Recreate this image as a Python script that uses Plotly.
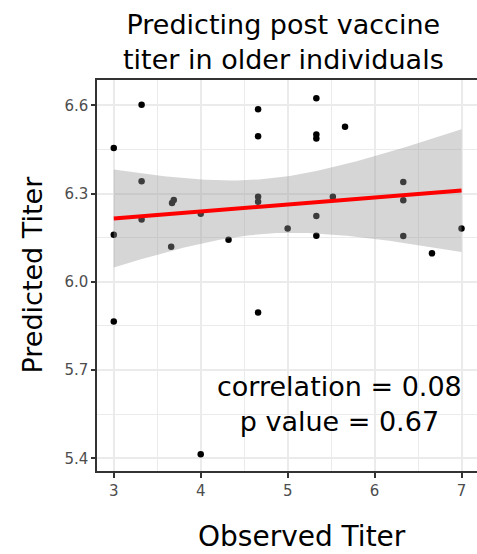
import numpy as np
import plotly.graph_objects as go

# Observed vs predicted titers
observed = [3.00, 3.32, 4.66, 4.66, 3.32, 3.67, 3.69, 3.32, 3.00, 4.00,
            3.66, 4.32, 4.66, 4.66, 5.00, 5.33, 5.33, 5.33, 5.66, 6.33,
            5.52, 5.33, 6.33, 5.33, 6.33, 6.66, 7.00, 3.00, 4.66, 4.00]
predicted = [6.455, 6.602, 6.587, 6.495, 6.342, 6.268, 6.278, 6.212, 6.160, 6.231,
             6.119, 6.143, 6.289, 6.272, 6.181, 6.624, 6.501, 6.487, 6.527, 6.339,
             6.289, 6.224, 6.277, 6.157, 6.156, 6.097, 6.181, 5.865, 5.896, 5.414]

x_ticks = [3, 4, 5, 6, 7]
y_ticks = [5.4, 5.7, 6.0, 6.3, 6.6]
title_text = "Predicting post vaccine<br>titer in older individuals"
x_title = "Observed Titer"
y_title = "Predicted Titer"
stats_text = "correlation = 0.08<br>p value = 0.67"
T_CRIT = 2.048  # 97.5% t quantile, df = n - 2 = 28

# linear model fit with 95% confidence band (like geom_smooth(method="lm"))
x = np.array(observed)
y = np.array(predicted)
n = len(x)
xbar, ybar = x.mean(), y.mean()
sxx = ((x - xbar) ** 2).sum()
slope = ((x - xbar) * (y - ybar)).sum() / sxx
intercept = ybar - slope * xbar
resid = y - (intercept + slope * x)
s = np.sqrt((resid ** 2).sum() / (n - 2))
grid = np.linspace(x.min(), x.max(), 80)
fit = intercept + slope * grid
se = s * np.sqrt(1.0 / n + (grid - xbar) ** 2 / sxx)
upper = fit + T_CRIT * se
lower = fit - T_CRIT * se

FONT = "DejaVu Sans"

fig = go.Figure()
fig.add_trace(go.Scatter(x=observed, y=predicted, mode="markers",
                         marker=dict(color="black", size=6.5, line=dict(width=0)),
                         showlegend=False, hoverinfo="x+y"))
fig.add_trace(go.Scatter(x=np.concatenate([grid, grid[::-1]]),
                         y=np.concatenate([upper, lower[::-1]]),
                         fill="toself", fillcolor="rgba(153,153,153,0.4)",
                         line=dict(width=0), mode="lines",
                         showlegend=False, hoverinfo="skip"))
fig.add_trace(go.Scatter(x=grid, y=fit, mode="lines",
                         line=dict(color="#ff0000", width=4),
                         showlegend=False, hoverinfo="skip"))

fig.update_layout(
    width=477, height=554,
    margin=dict(l=97, r=0, t=80, b=83),
    paper_bgcolor="white", plot_bgcolor="white",
    font=dict(family=FONT, color="black"),
    xaxis=dict(range=[2.807, 7.178], tickvals=x_ticks, ticktext=[str(v) for v in x_ticks],
               showgrid=True, gridcolor="#ebebeb", gridwidth=2,
               minor=dict(dtick=0.5, tick0=3, showgrid=True, gridcolor="#ebebeb", gridwidth=1),
               zeroline=False, showline=True, linecolor="#333333", linewidth=1.5, mirror=True,
               ticks="outside", ticklen=5, tickwidth=1.5, tickcolor="#333333",
               tickfont=dict(size=15, color="#4d4d4d", family=FONT)),
    yaxis=dict(range=[5.357, 6.686], tickvals=y_ticks, ticktext=[f"{v:.1f}" for v in y_ticks],
               showgrid=True, gridcolor="#ebebeb", gridwidth=2,
               minor=dict(dtick=0.15, tick0=5.4, showgrid=True, gridcolor="#ebebeb", gridwidth=1),
               zeroline=False, showline=True, linecolor="#333333", linewidth=1.5, mirror=False,
               ticks="outside", ticklen=4, tickwidth=1.5, tickcolor="#333333",
               tickfont=dict(size=15, color="#4d4d4d", family=FONT)),
    annotations=[
        dict(text=title_text, xref="paper", yref="paper",
             x=(283.5 - 97) / 380, y=(471 - 42) / 391, xanchor="center", yanchor="middle",
             showarrow=False, align="center", font=dict(size=27, family=FONT, color="black")),
        dict(text=stats_text, xref="paper", yref="paper",
             x=(339 - 97) / 380, y=(471 - 404) / 391, xanchor="center", yanchor="middle",
             showarrow=False, align="center", font=dict(size=27, family=FONT, color="black")),
        dict(text=x_title, xref="paper", yref="paper",
             x=(302 - 97) / 380, y=-(536 - 471) / 391, xanchor="center", yanchor="middle",
             showarrow=False, font=dict(size=28, family=FONT, color="black")),
        dict(text=y_title, xref="paper", yref="paper", textangle=-90,
             x=-(97 - 31.5) / 380, y=(471 - 275) / 391, xanchor="center", yanchor="middle",
             showarrow=False, font=dict(size=27, family=FONT, color="black")),
    ],
)

fig.write_html("out.html", config={"displayModeBar": False},
               post_script="document.body.style.margin='0';document.body.style.overflow='hidden';")
